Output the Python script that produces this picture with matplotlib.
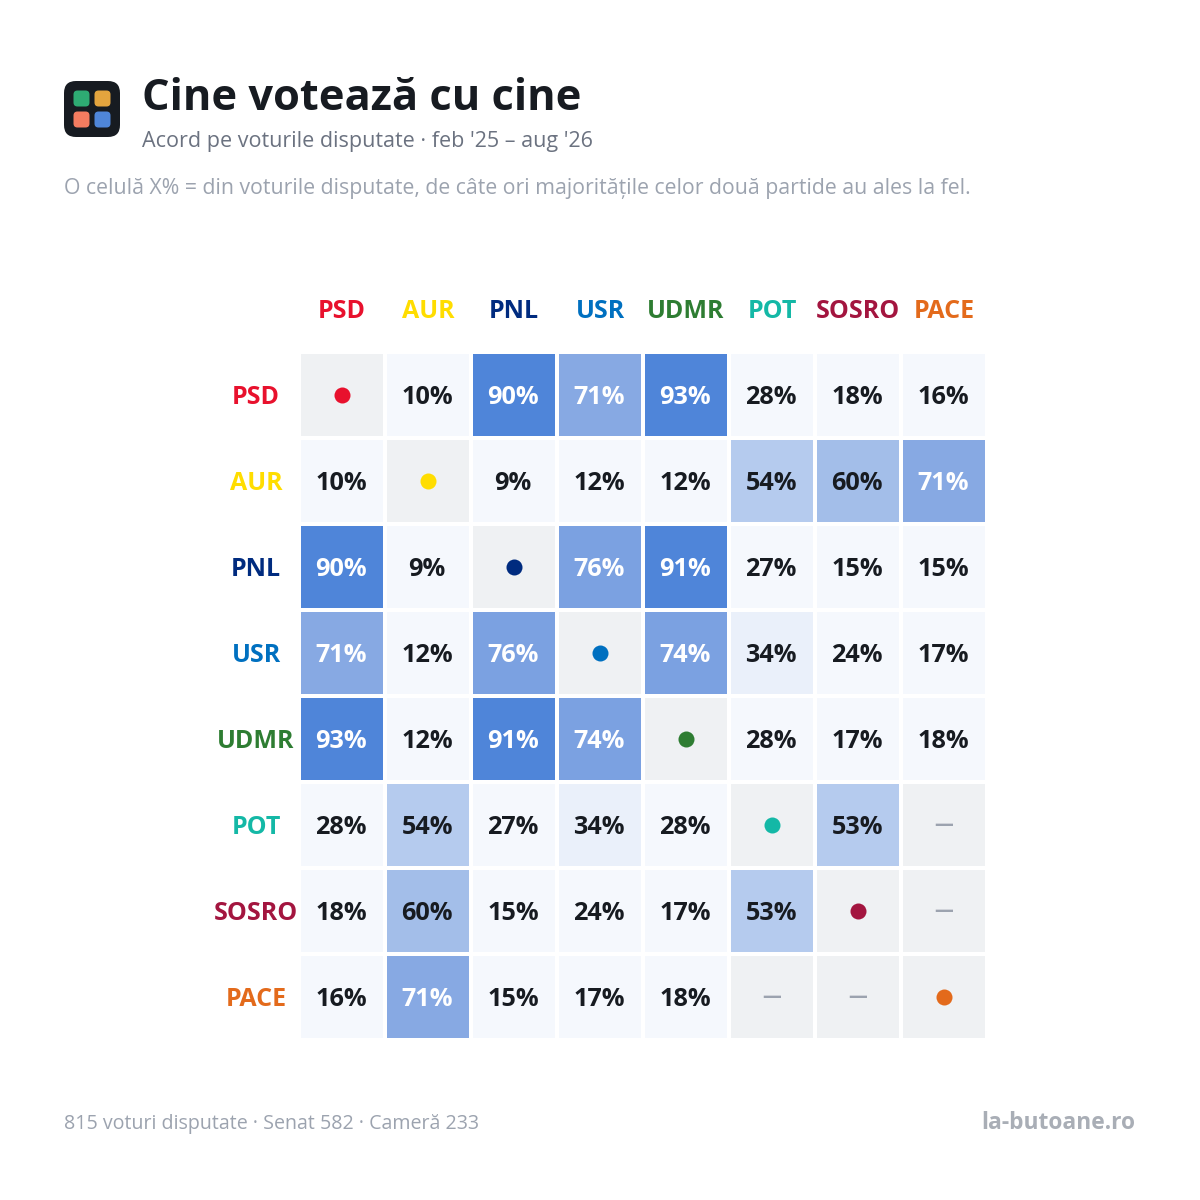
import numpy as np
from matplotlib import pyplot as plt
from matplotlib.colors import ListedColormap, BoundaryNorm
from matplotlib.patches import FancyBboxPatch

plt.rcParams['font.family'] = ['Open Sans', 'DejaVu Sans']

title = "Cine votează cu cine"
subtitle = "Acord pe voturile disputate · feb '25 – aug '26"
note = "O celulă X% = din voturile disputate, de câte ori majoritățile celor două partide au ales la fel."
footer = "815 voturi disputate · Senat 582 · Cameră 233"
brand = "la-butoane.ro"

parties = ["PSD", "AUR", "PNL", "USR", "UDMR", "POT", "SOSRO", "PACE"]
partyColors = ["#E8112D", "#FFDD00", "#002B7F", "#0070C0", "#2E7D32", "#14B8A6", "#A3153F", "#E36A1B"]

# nan = diagonal or no shared votes
agreement = [
    [np.nan, 10, 90, 71, 93, 28, 18, 16],
    [10, np.nan, 9, 12, 12, 54, 60, 71],
    [90, 9, np.nan, 76, 91, 27, 15, 15],
    [71, 12, 76, np.nan, 74, 34, 24, 17],
    [93, 12, 91, 74, np.nan, 28, 17, 18],
    [28, 54, 27, 34, 28, np.nan, 53, np.nan],
    [18, 60, 15, 24, 17, 53, np.nan, np.nan],
    [16, 71, 15, 17, 18, np.nan, np.nan, np.nan],
]

levelEdges = [0, 30, 50, 57, 65, 73, 85, 100]
levelColors = ["#F5F8FD", "#EAF0FA", "#B5CBEE", "#A3BEE9", "#87A9E3", "#7BA1E1", "#4F85D9"]
logoColors = ["#2EAB73", "#E3A43E", "#F47C60", "#4F86D9"]

DARK = "#171B21"
W = 1200

fig = plt.figure(figsize=(12, 12), dpi=100, facecolor="white")

# full page axes in pixels, for header and footer
page = fig.add_axes([0, 0, 1, 1])
page.set_xlim(0, W)
page.set_ylim(W, 0)
page.axis("off")

page.add_patch(FancyBboxPatch((64, 81), 56, 56, boxstyle="round,pad=0,rounding_size=12",
                              facecolor=DARK, edgecolor="none"))
for (lx, ly), col in zip([(73.5, 90.5), (94.5, 90.5), (73.5, 111.5), (94.5, 111.5)], logoColors):
    page.add_patch(FancyBboxPatch((lx, ly), 16, 16, boxstyle="round,pad=0,rounding_size=4",
                                  facecolor=col, edgecolor="none"))

page.text(142, 110, title, fontsize=31.2, fontweight="bold", color=DARK, va="baseline", ha="left")
page.text(142, 147, subtitle, fontsize=15.5, color="#6B7280", va="baseline", ha="left")
page.text(64, 194, note, fontsize=15.3, color="#9CA3AF", va="baseline", ha="left")
page.text(64, 1129, footer, fontsize=14.1, color="#9CA3AF", va="baseline", ha="left")
page.text(1135, 1129, brand, fontsize=16.4, fontweight="bold", color="#A9AEB6", va="baseline", ha="right")

# heatmap, white edges make the gaps
ax = fig.add_axes([299 / W, (W - 1040) / W, 688 / W, 688 / W])
vals = np.ma.masked_invalid(np.array(agreement, dtype=float))
cmap = ListedColormap(levelColors)
cmap.set_bad("#EFF1F3")
ax.pcolormesh(vals, cmap=cmap, norm=BoundaryNorm(levelEdges, cmap.N),
              edgecolors="white", linewidth=2.88)
ax.set_xlim(0, 8)
ax.set_ylim(8, 0)
ax.set_xticks(np.arange(8) + 0.5, parties, fontsize=18, fontweight="bold")
ax.set_yticks(np.arange(8) + 0.5, parties, fontsize=18, fontweight="bold")
ax.xaxis.tick_top()
ax.tick_params(length=0, pad=0)
ax.tick_params(axis="x", pad=20.4)
for s in ax.spines.values():
    s.set_visible(False)
for lab, col in zip(ax.get_xticklabels(), partyColors):
    lab.set_color(col)
for lab, col in zip(ax.get_yticklabels(), partyColors):
    lab.set_color(col)
    lab.set_horizontalalignment("center")
    lab.set_x(-43 / 688)

for i in range(8):
    for j in range(8):
        v = agreement[i][j]
        if i == j:
            ax.scatter(j + 0.5, i + 0.495, s=133, color=partyColors[i], linewidths=0, zorder=3)
        elif np.isnan(v):
            ax.text(j + 0.49, i + 0.5, "—", fontsize=13.5, fontweight="bold", color="#9CA3AF",
                    ha="center", va="center")
        else:
            txtCol = "white" if v >= 65 else DARK
            ax.text(j + 0.49, i + 0.6, "%d%%" % v, fontsize=18.2, fontweight="bold", color=txtCol,
                    ha="center", va="baseline")

fig.savefig("out.png", dpi=100, facecolor="white")
